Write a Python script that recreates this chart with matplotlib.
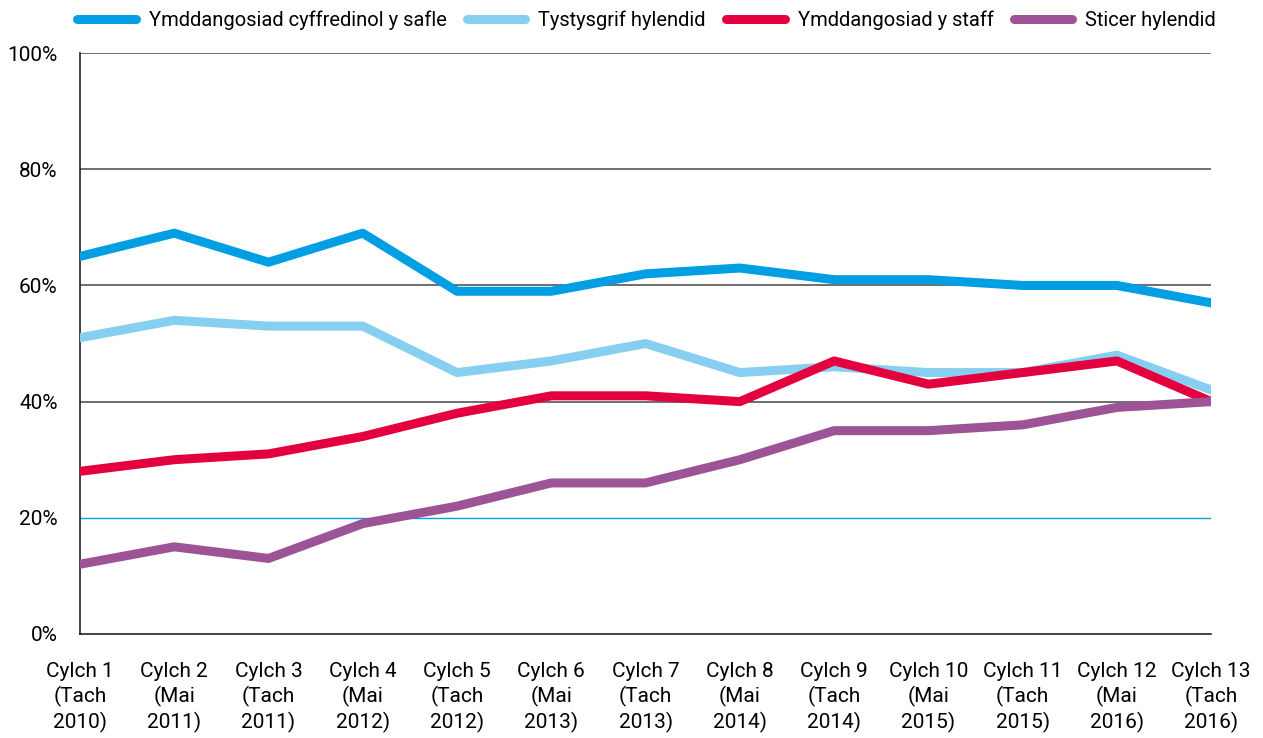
import matplotlib
matplotlib.use("Agg")
from matplotlib import pyplot as plt

plt.rcParams['font.family'] = ['Roboto', 'DejaVu Sans']

cycles = ["Cylch 1\n(Tach\n2010)", "Cylch 2\n(Mai\n2011)", "Cylch 3\n(Tach\n2011)",
          "Cylch 4\n(Mai\n2012)", "Cylch 5\n(Tach\n2012)", "Cylch 6\n(Mai\n2013)",
          "Cylch 7\n(Tach\n2013)", "Cylch 8\n(Mai\n2014)", "Cylch 9\n(Tach\n2014)",
          "Cylch 10\n(Mai\n2015)", "Cylch 11\n(Tach\n2015)", "Cylch 12\n(Mai\n2016)",
          "Cylch 13\n(Tach\n2016)"]

safle = [65, 69, 64, 69, 59, 59, 62, 63, 61, 61, 60, 60, 57]
tystysgrif = [51, 54, 53, 53, 45, 47, 50, 45, 46, 45, 45, 48, 42]
staff = [28, 30, 31, 34, 38, 41, 41, 40, 47, 43, 45, 47, 40]
sticer = [12, 15, 13, 19, 22, 26, 26, 30, 35, 35, 36, 39, 40]

names = ["Ymddangosiad cyffredinol y safle", "Tystysgrif hylendid",
         "Ymddangosiad y staff", "Sticer hylendid"]
colours = ["#009FE3", "#86CFF0", "#E4003F", "#9C5497"]

fig = plt.figure(figsize=(12.63, 7.38), dpi=100)
ax = fig.add_axes([0.0633, 0.141, 0.8957, 0.787])

x = list(range(len(cycles)))
for vals, name, col in zip([safle, tystysgrif, staff, sticer], names, colours):
    ax.plot(x, vals, color=col, linewidth=6.5, label=name,
            solid_capstyle="round", solid_joinstyle="round", zorder=3)

# gridlines (20% one is blue in the original)
for g in [40, 60, 80, 100]:
    ax.axhline(g, color="#555555", linewidth=1.2, zorder=1)
ax.axhline(20, color="#009FE3", linewidth=1.0, zorder=1)

ax.set_xlim(0, len(cycles) - 1)
ax.set_ylim(0, 100)
ax.set_yticks([0, 20, 40, 60, 80, 100])
ax.set_yticklabels(["0%", "20%", "40%", "60%", "80%", "100%"], fontsize=15)
ax.set_xticks(x)
ax.set_xticklabels(cycles, fontsize=15, linespacing=1.3)
ax.tick_params(axis="both", length=0)
ax.tick_params(axis="x", pad=20)
ax.tick_params(axis="y", pad=16)
ax.spines["top"].set_visible(False)
ax.spines["right"].set_visible(False)
ax.spines["left"].set_color("#222222")
ax.spines["bottom"].set_color("#222222")
ax.spines["left"].set_linewidth(1.2)
ax.spines["bottom"].set_linewidth(1.2)

fig.legend(loc="upper center", bbox_to_anchor=(0.512, 1.01), ncol=4, frameon=False,
           fontsize=14.5, handlelength=2.9, columnspacing=1.0, handletextpad=0.65)

fig.savefig("out.png", dpi=100)
